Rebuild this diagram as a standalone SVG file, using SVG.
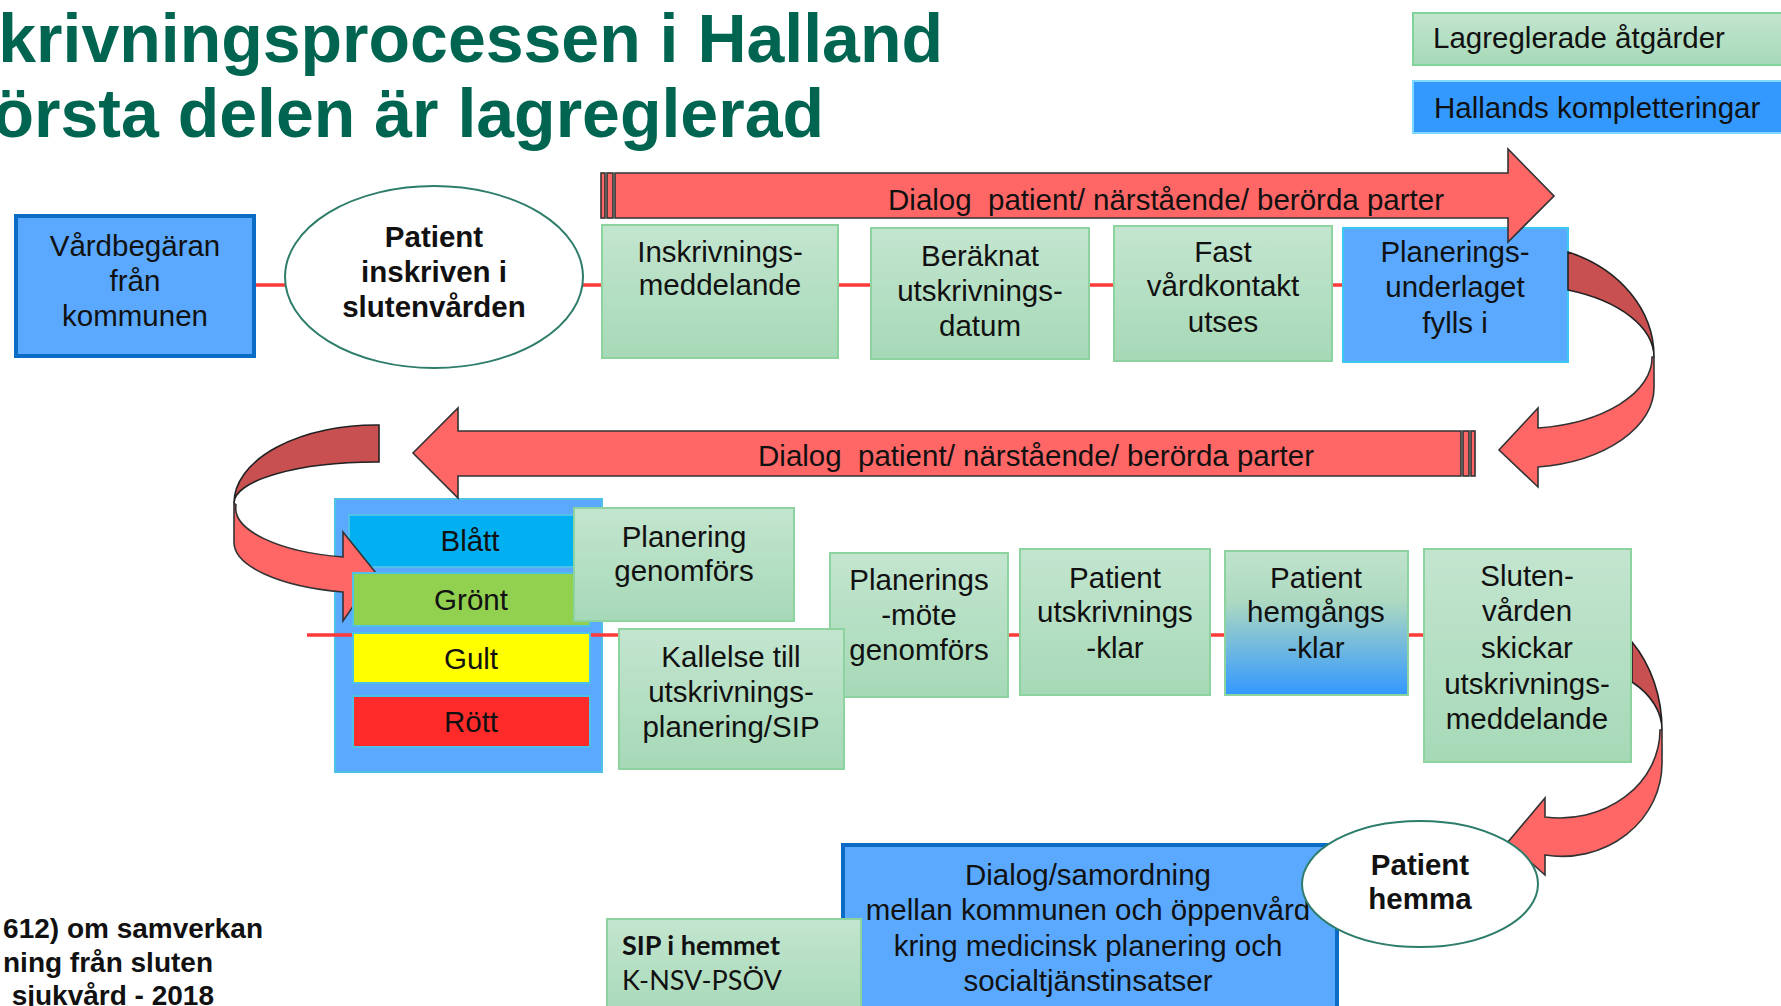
<svg xmlns="http://www.w3.org/2000/svg" width="1781" height="1006" viewBox="0 0 1781 1006">
<defs>
<style>
.t{font-family:"Liberation Sans",Arial,sans-serif;font-size:29.5px;fill:#111;text-anchor:middle}
.b{font-weight:bold}
.l{text-anchor:start}
.pre{white-space:pre}
.gb{fill:url(#gGreen);stroke:#8CD3A0;stroke-width:2}
.bl{fill:#5AA9FF}
.st{stroke:#4FC1E9;stroke-width:2}
.ar{fill:#FF6666;stroke:#333;stroke-width:1.6;stroke-linejoin:miter}
.bk{fill:#C85050;stroke:#222;stroke-width:1.6}
.ln{stroke:#FF3A3A;stroke-width:3.5;fill:none}
.el{fill:#fff;stroke:#2E7D6B;stroke-width:2}
</style>
<linearGradient id="gGreen" x1="0" y1="0" x2="0" y2="1">
<stop offset="0" stop-color="#C3E5CF"/>
<stop offset="1" stop-color="#A6D9B7"/>
</linearGradient>
<linearGradient id="gHem" x1="0" y1="0" x2="0" y2="1">
<stop offset="0" stop-color="#BFE3CC"/>
<stop offset="0.35" stop-color="#ADD9C0"/>
<stop offset="1" stop-color="#3398FF"/>
</linearGradient>
</defs>
<rect width="1781" height="1006" fill="#fff"/>

<g id="title" font-family="'Liberation Sans',Arial,sans-serif" font-weight="bold" font-size="68" fill="#006550" text-anchor="end">
<text x="943" y="62">krivningsprocessen i Halland</text>
<text x="824" y="137">örsta delen är lagreglerad</text>
</g>

<g id="legend-lagreglerade">
<rect x="1413" y="13" width="380" height="52" fill="url(#gGreen)" stroke="#7FD49A" stroke-width="2"/>
<text class="t l" x="1433" y="48">Lagreglerade åtgärder</text>
</g>
<g id="legend-halland">
<rect x="1413" y="81" width="380" height="52" fill="#3399FF" stroke="#7FD8FF" stroke-width="2"/>
<text class="t l" x="1434" y="118">Hallands kompletteringar</text>
</g>

<g id="container-status">
<rect x="335" y="499" width="267" height="273" class="bl st"/>
</g>

<g id="connectors">
<path class="ln" d="M254 285H1343"/>
<path class="ln" d="M307 635H1424"/>
</g>

<g id="vardbegaran">
<rect x="16" y="216" width="238" height="140" fill="#5AA9FF" stroke="#0A6CC4" stroke-width="4"/>
<text class="t" x="135" y="256">Vårdbegäran</text>
<text class="t" x="135" y="291">från</text>
<text class="t" x="135" y="326">kommunen</text>
</g>
<g id="patient-inskriven">
<ellipse cx="434" cy="277" rx="149" ry="91" class="el"/>
<text class="t b" x="434" y="247">Patient</text>
<text class="t b" x="434" y="282">inskriven i</text>
<text class="t b" x="434" y="317">slutenvården</text>
</g>
<g id="inskrivningsmeddelande">
<rect x="602" y="225" width="236" height="133" class="gb"/>
<text class="t" x="720" y="262">Inskrivnings-</text>
<text class="t" x="720" y="295">meddelande</text>
</g>
<g id="beraknat">
<rect x="871" y="228" width="218" height="131" class="gb"/>
<text class="t" x="980" y="266">Beräknat</text>
<text class="t" x="980" y="301">utskrivnings-</text>
<text class="t" x="980" y="336">datum</text>
</g>
<g id="fast-vardkontakt">
<rect x="1114" y="226" width="218" height="135" class="gb"/>
<text class="t" x="1223" y="262">Fast</text>
<text class="t" x="1223" y="296">vårdkontakt</text>
<text class="t" x="1223" y="332">utses</text>
</g>
<g id="planeringsunderlaget">
<rect x="1343" y="228" width="225" height="134" fill="#5AA9FF" stroke="#3CC8F0" stroke-width="2"/>
<text class="t" x="1455" y="262">Planerings-</text>
<text class="t" x="1455" y="297">underlaget</text>
<text class="t" x="1455" y="333">fylls i</text>
</g>

<g id="blatt">
<rect x="349" y="515" width="241" height="52" fill="#00B0F0" class="st"/>
<text class="t" x="470" y="551">Blått</text>
</g>

<g id="dialog-arrow-top">
<rect x="601" y="173" width="4" height="45" class="ar"/>
<rect x="607" y="173" width="6" height="45" class="ar"/>
<path class="ar" d="M615 173H1508V149L1554 196L1508 242V218H615Z"/>
<text class="t pre" x="1166" y="210" xml:space="preserve">Dialog  patient/ närstående/ berörda parter</text>
</g>
<g id="dialog-arrow-bottom">
<path class="ar" d="M1461 431H458V408L413 453L458 498V476H1461Z"/>
<rect x="1463" y="431" width="6" height="45" class="ar"/>
<rect x="1471" y="431" width="4" height="45" class="ar"/>
<text class="t pre" x="1036" y="466" xml:space="preserve">Dialog  patient/ närstående/ berörda parter</text>
</g>
<g id="curve-right">
<path class="bk" d="M1568 252A134 112 0 0 1 1654 357A134 72 0 0 0 1568 290Z"/>
<path class="ar" d="M1654 357L1654 387A134 80 0 0 1 1538 467L1538 487L1499 450L1538 408L1538 428A132 71 0 0 0 1652 357Z"/>
</g>
<g id="curve-left">
<path class="bk" d="M379 425A142 78 0 0 0 234 503A142 41 0 0 1 379 462Z"/>
<path class="ar" d="M234 503L234 542A140 51 0 0 0 343 592L343 621L376 573L343 532L343 557A135 50 0 0 1 236 505Z"/>
</g>
<g id="curve-bottom">
<path class="bk" d="M1632 642A100 123 0 0 1 1662 730A100 67 0 0 0 1632 682Z"/>
<path class="ar" d="M1662 730L1662 763A100 93 0 0 1 1545 855L1545 875L1508 842L1545 798L1545 817A100 88 0 0 0 1660 730Z"/>
</g>

<g id="gront">
<rect x="353" y="573" width="237" height="53" fill="#92D050" class="st"/>
<text class="t" x="471" y="610">Grönt</text>
</g>
<g id="gult">
<rect x="353" y="633" width="237" height="50" fill="#FFFF00" class="st"/>
<text class="t" x="471" y="669">Gult</text>
</g>
<g id="rott">
<rect x="353" y="696" width="237" height="51" fill="#FF2B2B" class="st"/>
<text class="t" x="471" y="732">Rött</text>
</g>

<g id="planering-genomfors">
<rect x="574" y="508" width="220" height="113" class="gb"/>
<text class="t" x="684" y="547">Planering</text>
<text class="t" x="684" y="581">genomförs</text>
</g>
<g id="planeringsmote">
<rect x="830" y="553" width="178" height="144" class="gb"/>
<text class="t" x="919" y="590">Planerings</text>
<text class="t" x="919" y="625">-möte</text>
<text class="t" x="919" y="660">genomförs</text>
</g>
<g id="kallelse">
<rect x="619" y="629" width="225" height="140" class="gb"/>
<text class="t" x="731" y="667">Kallelse till</text>
<text class="t" x="731" y="702">utskrivnings-</text>
<text class="t" x="731" y="737">planering/SIP</text>
</g>
<g id="utskrivningsklar">
<rect x="1020" y="549" width="190" height="146" class="gb"/>
<text class="t" x="1115" y="588">Patient</text>
<text class="t" x="1115" y="622">utskrivnings</text>
<text class="t" x="1115" y="658">-klar</text>
</g>
<g id="hemgangsklar">
<rect x="1225" y="551" width="183" height="144" fill="url(#gHem)" stroke="#8CD3A0" stroke-width="2"/>
<text class="t" x="1316" y="588">Patient</text>
<text class="t" x="1316" y="622">hemgångs</text>
<text class="t" x="1316" y="658">-klar</text>
</g>
<g id="slutenvarden-skickar">
<rect x="1424" y="549" width="207" height="213" class="gb"/>
<text class="t" x="1527" y="586">Sluten-</text>
<text class="t" x="1527" y="621">vården</text>
<text class="t" x="1527" y="658">skickar</text>
<text class="t" x="1527" y="694">utskrivnings-</text>
<text class="t" x="1527" y="729">meddelande</text>
</g>

<g id="dialog-samordning">
<rect x="843" y="845" width="494" height="175" fill="#5AA9FF" stroke="#0A6CC4" stroke-width="4"/>
<text class="t" x="1088" y="885">Dialog/samordning</text>
<text class="t" x="1088" y="920">mellan kommunen och öppenvård</text>
<text class="t" x="1088" y="956">kring medicinsk planering och</text>
<text class="t" x="1088" y="991">socialtjänstinsatser</text>
</g>
<g id="sip-hemmet">
<rect x="607" y="919" width="254" height="100" class="gb"/>
<text x="622" y="955" font-family="Lato,'Open Sans',sans-serif" font-weight="bold" font-size="27" fill="#111">SIP i hemmet</text>
<text x="622" y="990" font-family="Lato,'Open Sans',sans-serif" font-size="27" fill="#111">K-NSV-PSÖV</text>
</g>
<g id="patient-hemma">
<ellipse cx="1420" cy="884" rx="118" ry="63" class="el"/>
<text class="t b" x="1420" y="875">Patient</text>
<text class="t b" x="1420" y="909">hemma</text>
</g>

<g id="lagtext" font-family="'Liberation Sans',Arial,sans-serif" font-weight="bold" font-size="28" fill="#111" text-anchor="end">
<text x="263" y="938">612) om samverkan</text>
<text x="213" y="972">ning från sluten</text>
<text x="214" y="1005">sjukvård - 2018</text>
</g>
</svg>
